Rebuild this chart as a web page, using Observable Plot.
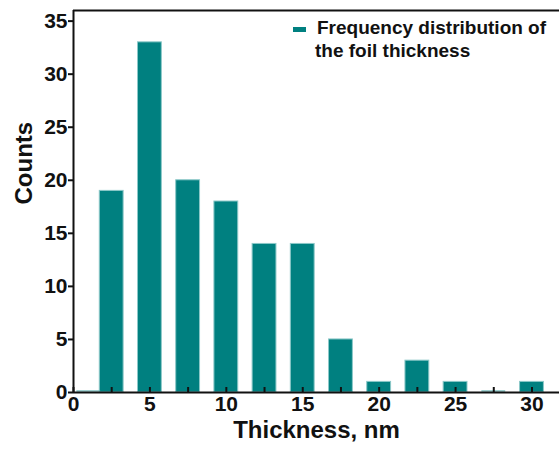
<!DOCTYPE html>
<html>
<head>
<meta charset="utf-8">
<script src="https://cdn.jsdelivr.net/npm/d3@7"></script>
<script src="https://cdn.jsdelivr.net/npm/@observablehq/plot@0.6"></script>
<style>
  html, body { margin: 0; padding: 0; background: #fff; }
  #wrap { position: relative; width: 559px; height: 454px; font-family: "Liberation Sans", Arial, sans-serif; }
  #legend { position: absolute; left: 293px; top: 17px; font-weight: bold; font-size: 19px; line-height: 22.5px; color: #111; white-space: nowrap; }
  #legend .sw { position: absolute; left: 0; top: 10px; width: 13px; height: 5px; background: #008080; }
  #legend .tx { margin-left: 24px; }
  #legend .tx2 { margin-left: 22px; }
</style>
</head>
<body>
<div id="wrap">
  <div id="chart"></div>
  <div id="legend"><div class="sw"></div><div class="tx">Frequency distribution of</div><div class="tx2">the foil thickness</div></div>
</div>
<script>
// Bin centers (nm) and counts
const thickness = [1, 2.5, 5, 7.5, 10, 12.5, 15, 17.5, 20, 22.5, 25, 27.5, 30];
const counts    = [0, 19, 33, 20, 18, 14, 14, 5, 1, 3, 1, 0, 1];
const xTicksMajor = [0, 5, 10, 15, 20, 25, 30];
const xTicksAll = [0, 2.5, 5, 7.5, 10, 12.5, 15, 17.5, 20, 22.5, 25, 27.5, 30];
const yTicks = [0, 5, 10, 15, 20, 25, 30, 35];
const xLabel = "Thickness, nm";
const yLabel = "Counts";

const halfWidth = 0.78;
const yMax = 36;
const data = thickness.map((t, i) => ({t, c: counts[i]}));
const zeros = data.filter(d => d.c === 0);

const chart = Plot.plot({
  width: 559,
  height: 454,
  marginLeft: 73,
  marginRight: 0,
  marginTop: 10,
  marginBottom: 62,
  style: {fontFamily: "Liberation Sans, Arial, sans-serif", fontWeight: "bold", fontSize: "21px", color: "#111", background: "#fff"},
  x: {domain: [0, 31.8]},
  y: {domain: [0, yMax]},
  marks: [
    Plot.rectY(data, {x1: d => d.t - halfWidth, x2: d => d.t + halfWidth, y1: 0, y2: "c", fill: "#008080", stroke: "#8cc8c8", strokeWidth: 1}),
    Plot.ruleY(zeros, {y: 0, x1: d => d.t - halfWidth, x2: d => d.t + halfWidth, stroke: "#5fb0b0", strokeWidth: 1.2, dy: -1.5}),
    Plot.axisX({ticks: xTicksAll, tickSize: -5, stroke: "#111", strokeWidth: 2, tickFormat: () => "", label: null}),
    Plot.axisY({ticks: yTicks, tickSize: 5, strokeWidth: 2, stroke: "#111", tickFormat: () => "", label: null}),
    Plot.text(xTicksMajor, {x: d => d, text: d => String(d), frameAnchor: "bottom", lineAnchor: "top", dy: 4, fontSize: 21, fontWeight: "bold", fill: "#111"}),
    Plot.text(yTicks, {y: d => d, text: d => String(d), frameAnchor: "left", textAnchor: "end", dx: -6, fontSize: 21, fontWeight: "bold", fill: "#111"}),
    Plot.ruleY([0], {stroke: "#111", strokeWidth: 2}),
    Plot.ruleX([0], {stroke: "#111", strokeWidth: 2}),
    Plot.ruleY([yMax], {stroke: "#111", strokeWidth: 2}),
    Plot.text([xLabel], {frameAnchor: "bottom", dy: 45, fontSize: 24, fontWeight: "bold", fill: "#111"}),
    Plot.text([yLabel], {frameAnchor: "left", dx: -49, dy: 3, rotate: -90, fontSize: 24, fontWeight: "bold", fill: "#111"})
  ]
});
document.getElementById("chart").appendChild(chart);
</script>
</body>
</html>
